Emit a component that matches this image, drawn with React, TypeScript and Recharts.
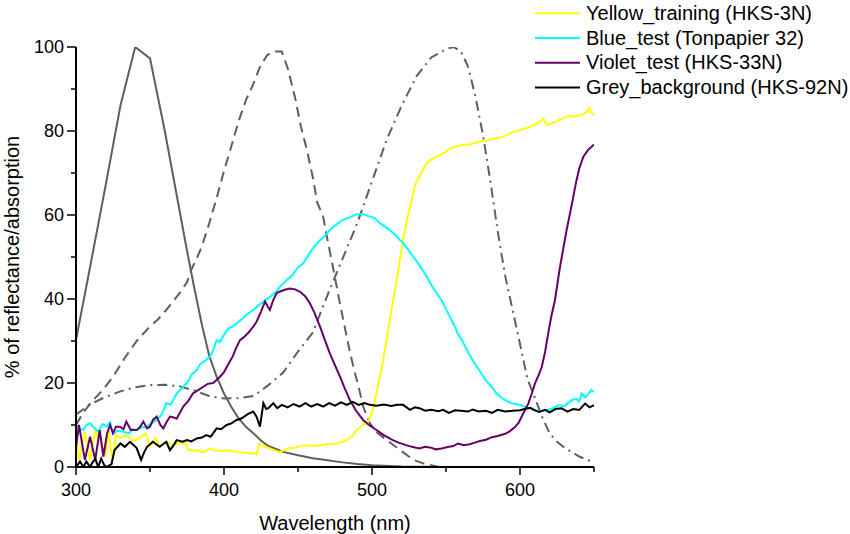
import React from 'react';
import { LineChart, Line, XAxis, YAxis, Legend } from 'recharts';

type Pt = [number, number];

// UV receptor sensitivity (solid grey)
const uvReceptor: Pt[] = [
  [300, 30.2], [310, 48.5], [320, 67], [330, 86], [340, 100], [350, 97.3], [360, 80], [370, 61],
  [375, 51.5], [380, 42.5], [385, 34], [390, 26.5], [395, 21.5], [400, 17.5], [405, 14.3], [410, 11.5],
  [415, 9.5], [420, 8], [425, 6.3], [430, 5], [440, 3.6], [450, 2.8], [460, 2.1], [470, 1.6], [480, 1.1],
  [490, 0.7], [500, 0.4], [520, 0.1], [550, 0],
];

// Blue receptor sensitivity (dashed grey)
const blueReceptor: Pt[] = [
  [300, 10], [305, 13], [310, 15.3], [318, 18.3], [325, 21.5], [333, 26], [341, 30], [350, 33.5],
  [355, 35], [361, 37.4], [370, 41.4], [375, 44], [378, 47], [382, 50], [385, 52.5], [390, 58],
  [395, 64], [400, 70.5], [403, 74], [410, 82.5], [415, 87.5], [419, 90.5], [424, 95], [429, 98],
  [433, 98.9], [439, 98.9], [443, 95], [448, 88], [452, 81], [456, 75.5], [460, 69], [463, 63],
  [467, 59.6], [470, 54], [474, 46.9], [478, 39.5], [482, 32.6], [485, 27.5], [488, 23], [491, 19],
  [494, 14.4], [498.6, 10.4], [504, 8], [510, 6.4], [519, 4], [528, 1.7], [535, 0.8], [545, 0],
];

// Green receptor sensitivity (dash-dot grey)
const greenReceptor: Pt[] = [
  [300, 12.5], [310, 15], [320, 16.7], [330, 18], [340, 19], [350, 19.5], [360, 19.6], [370, 19.2],
  [380, 18.2], [390, 16.9], [400, 16.3], [410, 16.4], [420, 16.9], [430, 19.5], [440, 22.5],
  [450, 27.5], [460, 32], [470, 41], [480, 49.5], [490, 58], [500, 68], [510, 78], [520, 86],
  [530, 93], [540, 97.5], [550, 99.5], [555, 100], [560, 99], [565, 95.3], [570, 88], [575, 79],
  [580, 68], [585, 56], [590, 45.5], [595, 37.4], [600, 29.3], [605, 21], [610, 16.5], [615, 11.9],
  [620, 8], [625, 6], [630, 4.6], [640, 2.5], [646, 1.6], [650, 1.2],
];

const yellowTraining: Pt[] = [
  [300, 8.8], [302, 1.7], [306, 8.4], [309.5, 1.7], [313, 8.8], [316, 6.2], [320, 3], [322, 8.8],
  [324.5, 1.7], [327, 7.5], [330, 7], [334, 7.5], [338.7, 6.2], [343, 6.8], [347, 8], [350, 5],
  [353.6, 6.8], [357, 4.8], [361, 6], [366, 5.2], [370, 5.8], [373.6, 5.6], [376, 4], [381.5, 4],
  [386, 3.5], [390.5, 4.4], [395, 3.8], [401.8, 4], [408.6, 3.6], [414, 3.4], [420, 3.2], [422, 3.0],
  [424, 5.6], [427, 5.0], [431, 4.4], [435, 3.8], [438, 3.6], [442.8, 4.4], [448, 4.6], [453.6, 5.2],
  [460, 5.0], [464.9, 5.2], [470, 5.4], [476, 5.6], [480, 6], [483, 6.4], [487, 7.5], [489.6, 8.8],
  [494, 10], [497.5, 10.8], [500, 13], [503, 17.5], [507.6, 25.5], [512, 35], [516.7, 44.5],
  [521, 54], [524, 59.5], [526.8, 63.6], [529, 67], [532.4, 69.5], [536, 71.8], [539, 73],
  [543, 73.8], [546, 74.3], [550, 75], [552.7, 75.9], [557, 76.3], [561.7, 76.7], [566, 76.8],
  [570, 77.2], [573, 77.5], [578, 77.8], [584, 78.3], [588, 78.6], [592, 79.2], [595.5, 79.8],
  [600, 80.2], [606.8, 81], [610, 81.5], [613, 82], [615.7, 83], [618, 81.4], [621, 81.8],
  [624.8, 82.3], [629, 83], [633, 83.6], [637, 83.4], [640.5, 83.8], [644, 84.2], [647, 85.4],
  [648, 84.5], [650, 83.8],
];

const blueTest: Pt[] = [
  [300, 10], [302, 9.2], [305, 8.8], [307, 10], [309.5, 10.4], [312, 9.4], [315, 8.4], [318, 10.2],
  [320.7, 9.6], [323, 10.6], [325, 8], [328, 8.6], [332, 8.4], [336, 8], [338, 9], [341, 8.8],
  [344, 9.4], [347.7, 9.6], [351, 10.4], [354.5, 11.2], [358, 12.5], [361, 15.2], [364, 14.8],
  [368, 17.5], [372.5, 19.1], [376, 20.5], [378, 22], [381.5, 23], [384, 24.6], [387, 25.2],
  [390.5, 26.3], [393, 28], [395, 30.2], [397.3, 29.8], [400, 31.5], [403, 33], [406, 33.5],
  [408.6, 34.2], [412, 35.2], [415, 36.2], [419.8, 37.4], [423, 38.4], [427, 39.5], [431, 40.5],
  [435, 41.6], [438, 43], [442.4, 44.5], [446, 45.6], [450, 47.5], [453.6, 48.5], [458, 51],
  [461, 52.5], [464.9, 54], [468, 55], [471, 56.2], [473.9, 57.2], [477, 58], [480, 58.8],
  [483, 59.2], [486, 59.6], [490, 60.2], [494, 60.2], [497, 59.8], [500, 59.5], [502, 59.2],
  [505.4, 58], [508, 57.4], [512, 56.4], [516, 55.2], [519, 54], [521, 53.3], [524, 52], [528, 50],
  [531, 48.6], [534, 47], [537, 45.3], [540, 43.4], [543.7, 41.4], [547, 39.7], [550, 37.6],
  [553, 35.5], [556, 33.4], [558, 31.7], [561, 30], [564, 28], [567, 26], [569.6, 24.6],
  [573, 22.8], [577, 20.6], [580.9, 19], [584, 17.6], [587, 16.6], [590, 15.9], [594, 15.2],
  [597, 15], [601, 14.7], [604, 14.2], [608, 13.9], [612, 13.2], [617, 13.5], [621, 13.8],
  [626, 14.7], [630, 14.5], [635, 15.9], [638, 16.3], [640, 15.6], [641.7, 17.5], [644, 16.6],
  [646, 17.3], [648, 18.3], [650, 17.9],
];

const violetTest: Pt[] = [
  [300, 4.8], [302, 10], [306, 1.7], [309.5, 7.2], [313, 1.7], [316, 8.8], [318.5, 2.5], [321, 8],
  [323, 10], [325, 8], [327, 9.6], [329.7, 9.6], [332, 9], [334, 10.8], [337, 8.8], [341, 8.8],
  [343, 9.4], [345.5, 10.8], [348, 9.2], [350, 9.6], [352, 11.2], [354.5, 12], [357, 10], [359, 9.2],
  [361, 10.6], [363.5, 12], [366, 11.8], [368, 11.5], [370, 12.8], [372.5, 14.4], [376, 15.8],
  [379, 17.5], [382, 18.2], [386, 19.1], [389, 19.8], [392.6, 20], [395, 20.7], [397.3, 21.5],
  [400, 22.6], [403, 24.5], [406, 26.4], [408, 28.2], [410.8, 30.2], [413, 30.8], [416, 31.8],
  [419.8, 33.4], [422, 34.6], [425, 37], [427.7, 39.4], [429.5, 38.2], [431, 37.4], [433, 39.5],
  [435.6, 41.4], [438, 41.8], [441, 42.2], [444.6, 42.5], [448, 42.3], [451.4, 41.7], [455, 40.6],
  [458, 39], [461, 36.8], [464.9, 33.4], [468, 30.4], [471.6, 27], [475, 24.2], [478.4, 21.5],
  [481.5, 18.8], [485, 16], [489, 13.5], [494, 11.2], [498, 10], [503, 8.8], [508, 7.6], [514, 6.4],
  [518, 5.8], [523, 5.2], [527, 4.8], [532, 4.4], [535.8, 4.8], [540, 4.6], [543, 4.2], [547, 4.4],
  [552, 4.8], [555, 5.0], [558, 5.6], [562, 5.2], [566, 5.4], [569.5, 5.8], [573, 6.2], [577, 6.5],
  [581, 7.1], [585, 7.4], [590, 7.9], [593, 8.5], [596.6, 9.5], [599, 10.5], [601, 11.9],
  [603, 13.3], [605.6, 15.1], [608, 17.5], [610, 19.8], [612.5, 21.8], [614.7, 23.8], [617, 27.5],
  [619, 31.7], [621, 35.6], [623.6, 39.7], [627, 47.6], [631.5, 56.4], [635, 62.5], [638, 68],
  [640, 71], [642.8, 73.9], [646, 75.5], [650, 76.8],
];

const greyBackground: Pt[] = [
  [300, 0], [302.7, 1.3], [305, 0], [307, 1.3], [309.5, 0], [311, 1.0], [313, 2], [315, 0], [317, 2],
  [319, 0.5], [320.7, 0], [324, 0.7], [326, 4], [330, 5.6], [333, 4.8], [336.5, 6], [339, 5.2],
  [341, 4.5], [344, 1.7], [346, 3.5], [348, 4.8], [352, 6], [356.5, 4.8], [361, 6], [363.5, 4],
  [366, 5.2], [368, 6.4], [372, 6.0], [375, 6.4], [378, 6.1], [381.5, 6.8], [385, 7.0], [388, 7.6],
  [391, 7.2], [395, 9.2], [398, 9.0], [401.8, 10], [405, 10.4], [408.6, 11.2], [412, 11.6],
  [416, 12.6], [419.8, 13.2], [422, 12], [424.3, 9.6], [426.6, 15.2], [428.5, 13.8], [430, 14],
  [433.3, 15.2], [436, 14], [439, 14.8], [443, 14.2], [447, 15], [451, 14.4], [455, 15.2],
  [459, 14.4], [463, 15.0], [467, 14.4], [471, 15.2], [475, 14.6], [479, 15.4], [483, 14.8],
  [487, 15.5], [491, 14.8], [495, 15.2], [498.6, 14.8], [503, 14.6], [508, 14.9], [513, 14.5],
  [517, 14.8], [521, 14.8], [525.7, 13.6], [529, 14.2], [532, 14], [536, 13.4], [540, 13.6],
  [545, 13.3], [548, 13.6], [552, 12.9], [556, 13.5], [560, 13.4], [565, 13.2], [568, 13.7],
  [572, 13.2], [577, 13.4], [581, 12.9], [585, 13.6], [590, 13.2], [595, 13.4], [600, 13.5],
  [603, 13.8], [607, 14.1], [610, 13.5], [613, 13.1], [617, 13.6], [620, 13.0], [624, 13.8],
  [628, 14.0], [632, 13.2], [636, 13.8], [640, 13.6], [644, 15.1], [647, 14.2], [650, 14.7],
];

const legendOrder = [
  'Yellow_training (HKS-3N)',
  'Blue_test (Tonpapier 32)',
  'Violet_test (HKS-33N)',
  'Grey_background (HKS-92N)',
];

const xTicks = [300, 350, 400, 450, 500, 550, 600, 650];
const yTicks = [0, 10, 20, 30, 40, 50, 60, 70, 80, 90, 100];

const FONT = '"Liberation Sans", Arial, Helvetica, sans-serif';

const toRows = (pts: Pt[]) => pts.map(([wl, v]) => ({ wl, v }));

const XTick = (props: any) => {
  const { x, y, payload } = props;
  const major = payload.value % 100 === 0;
  return (
    <g>
      <line x1={x} x2={x} y1={y} y2={y + (major ? 8 : 5)} stroke="#000" strokeWidth={1.5} />
      {major && (
        <text x={x} y={y + 28.5} textAnchor="middle" fontSize={18} fontFamily={FONT} fill="#000">
          {payload.value}
        </text>
      )}
    </g>
  );
};

const YTick = (props: any) => {
  const { x, y, payload } = props;
  const major = payload.value % 20 === 0;
  return (
    <g>
      <line x1={x - (major ? 9 : 5)} x2={x} y1={y} y2={y} stroke="#000" strokeWidth={1.5} />
      {major && (
        <text x={x - 12} y={y} dy="0.35em" textAnchor="end" fontSize={18} fontFamily={FONT} fill="#000">
          {payload.value}
        </text>
      )}
    </g>
  );
};

const YLabel = (props: any) => {
  const { viewBox } = props;
  const cx = viewBox.x + 19;
  const cy = viewBox.y + viewBox.height / 2;
  return (
    <text
      x={cx}
      y={cy}
      transform={`rotate(-90, ${cx}, ${cy})`}
      textAnchor="middle"
      fontSize={20}
      fontFamily={FONT}
      fill="#000"
    >
      % of reflectance/absorption
    </text>
  );
};

const renderLegend = (props: any) => {
  const all = (props.payload || []).filter((p: any) => p.type !== 'none' && legendOrder.includes(p.value));
  const items = legendOrder
    .map((name) => all.find((p: any) => p.value === name))
    .filter(Boolean);
  return (
    <svg width={320} height={100} style={{ display: 'block' }}>
      {items.map((p: any, i: number) => (
        <g key={p.value}>
          <line x1={5} x2={50} y1={13.3 + i * 24.7} y2={13.3 + i * 24.7} stroke={p.color} strokeWidth={2} />
          <text x={56} y={20 + i * 24.7} fontSize={20} fontFamily={FONT} fill="#000">
            {p.value}
          </text>
        </g>
      ))}
    </svg>
  );
};

const GREY = '#5f5f5f';

export default function App() {
  return (
    <div style={{ position: 'absolute', left: 0, top: 0, width: 850, height: 534, background: '#fff', fontFamily: FONT }}>
      <LineChart width={850} height={534} margin={{ top: 47, right: 256, bottom: 0, left: 0 }}>
        <XAxis
          type="number"
          dataKey="wl"
          domain={[300, 650]}
          ticks={xTicks}
          allowDataOverflow
          height={67}
          tickSize={0}
          tickMargin={0}
          tickLine={false}
          tick={<XTick />}
          axisLine={{ stroke: '#000', strokeWidth: 2 }}
          label={{ value: 'Wavelength (nm)', position: 'insideBottom', offset: 4, fontSize: 20, fontFamily: FONT, fill: '#000' }}
        />
        <YAxis
          type="number"
          domain={[0, 100]}
          ticks={yTicks}
          allowDataOverflow
          width={76}
          tickSize={0}
          tickMargin={0}
          tickLine={false}
          tick={<YTick />}
          axisLine={{ stroke: '#000', strokeWidth: 2 }}
          label={<YLabel />}
        />
        <Legend
          layout="vertical"
          align="center"
          verticalAlign="middle"
          content={renderLegend}
          wrapperStyle={{ left: 530, top: 0, width: 320, height: 100 }}
        />
        <Line data={toRows(uvReceptor)} dataKey="v" name="UV" type="linear" stroke={GREY} strokeWidth={2} dot={false} legendType="none" isAnimationActive={false} />
        <Line data={toRows(blueReceptor)} dataKey="v" name="Blue" type="linear" stroke={GREY} strokeWidth={2} strokeDasharray="10 6" dot={false} legendType="none" isAnimationActive={false} />
        <Line data={toRows(greenReceptor)} dataKey="v" name="Green" type="linear" stroke={GREY} strokeWidth={2} strokeDasharray="10 5 2 5" dot={false} legendType="none" isAnimationActive={false} />
        <Line data={toRows(yellowTraining)} dataKey="v" name={legendOrder[0]} type="linear" stroke="#ffff00" strokeWidth={2} dot={false} isAnimationActive={false} />
        <Line data={toRows(blueTest)} dataKey="v" name={legendOrder[1]} type="linear" stroke="#00ffff" strokeWidth={2} dot={false} isAnimationActive={false} />
        <Line data={toRows(violetTest)} dataKey="v" name={legendOrder[2]} type="linear" stroke="#660066" strokeWidth={2} dot={false} isAnimationActive={false} />
        <Line data={toRows(greyBackground)} dataKey="v" name={legendOrder[3]} type="linear" stroke="#000000" strokeWidth={2} dot={false} isAnimationActive={false} />
      </LineChart>
    </div>
  );
}
